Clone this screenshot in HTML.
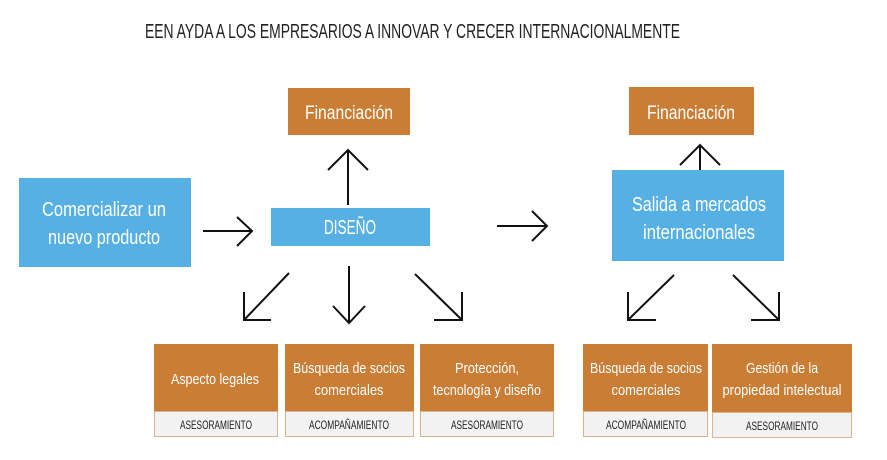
<!DOCTYPE html>
<html><head><meta charset="utf-8"><style>
html,body{margin:0;padding:0;background:#fff;}
svg{display:block}
text{font-family:"Liberation Sans Narrow","Liberation Sans",sans-serif;}
</style></head><body>
<svg width="887" height="460" viewBox="0 0 887 460" xmlns="http://www.w3.org/2000/svg">
<text x="145" y="38" font-size="20" fill="#222" textLength="535" lengthAdjust="spacingAndGlyphs">EEN AYDA A LOS EMPRESARIOS A INNOVAR Y CRECER INTERNACIONALMENTE</text>

<g fill="#c97d35">
<rect x="288" y="88" width="122" height="47"/>
<rect x="629" y="87" width="125" height="48"/>
<rect x="154" y="344" width="124" height="67"/>
<rect x="285" y="344" width="129" height="67"/>
<rect x="420" y="344" width="134" height="67"/>
<rect x="583" y="344" width="125" height="67"/>
<rect x="712" y="344" width="140" height="68"/>
</g>
<g fill="#f2f2f2" stroke="#d9b48f" stroke-width="1">
<rect x="154.5" y="411.5" width="123" height="25"/>
<rect x="285.5" y="411.5" width="128" height="25"/>
<rect x="420.5" y="411.5" width="133" height="25"/>
<rect x="583.5" y="411.5" width="124" height="25"/>
<rect x="712.5" y="412.5" width="139" height="25"/>
</g>
<g fill="#56b0e3">
<rect x="19" y="178" width="172" height="89"/>
<rect x="271" y="208" width="159" height="38"/>
<rect x="612" y="170" width="172" height="91"/>
</g>

<g fill="#fff" text-anchor="middle">
<text x="349" y="119" font-size="19" textLength="88" lengthAdjust="spacingAndGlyphs">Financiación</text>
<text x="691" y="119" font-size="19" textLength="88" lengthAdjust="spacingAndGlyphs">Financiación</text>
<text x="104" y="216" font-size="20" textLength="124" lengthAdjust="spacingAndGlyphs">Comercializar un</text>
<text x="104" y="244" font-size="20" textLength="112" lengthAdjust="spacingAndGlyphs">nuevo producto</text>
<text x="350" y="234" font-size="20" textLength="52" lengthAdjust="spacingAndGlyphs">DISEÑO</text>
<text x="699" y="211" font-size="20" textLength="134" lengthAdjust="spacingAndGlyphs">Salida a mercados</text>
<text x="699" y="239" font-size="20" textLength="112" lengthAdjust="spacingAndGlyphs">internacionales</text>
<text x="215" y="384" font-size="15" textLength="88" lengthAdjust="spacingAndGlyphs">Aspecto legales</text>
<text x="349" y="373" font-size="15" textLength="112" lengthAdjust="spacingAndGlyphs">Búsqueda de socios</text>
<text x="349" y="395" font-size="15" textLength="69" lengthAdjust="spacingAndGlyphs">comerciales</text>
<text x="487" y="373" font-size="15" textLength="64" lengthAdjust="spacingAndGlyphs">Protección,</text>
<text x="487" y="395" font-size="15" textLength="108" lengthAdjust="spacingAndGlyphs">tecnología y diseño</text>
<text x="646" y="373" font-size="15" textLength="112" lengthAdjust="spacingAndGlyphs">Búsqueda de socios</text>
<text x="646" y="395" font-size="15" textLength="69" lengthAdjust="spacingAndGlyphs">comerciales</text>
<text x="782" y="373" font-size="15" textLength="72" lengthAdjust="spacingAndGlyphs">Gestión de la</text>
<text x="782" y="395" font-size="15" textLength="119" lengthAdjust="spacingAndGlyphs">propiedad intelectual</text>
</g>
<g fill="#222" text-anchor="middle" font-size="12">
<text x="216" y="429" textLength="72" lengthAdjust="spacingAndGlyphs">ASESORAMIENTO</text>
<text x="349" y="429" textLength="80" lengthAdjust="spacingAndGlyphs">ACOMPAÑAMIENTO</text>
<text x="487" y="429" textLength="72" lengthAdjust="spacingAndGlyphs">ASESORAMIENTO</text>
<text x="646" y="429" textLength="80" lengthAdjust="spacingAndGlyphs">ACOMPAÑAMIENTO</text>
<text x="782" y="430" textLength="72" lengthAdjust="spacingAndGlyphs">ASESORAMIENTO</text>
</g>

<g stroke="#111" stroke-width="2" fill="none">
<path d="M348 205V150M328 170L348 150L368 170"/>
<path d="M203 231H252M237 217L252 231L237 246"/>
<path d="M497 226H547M532 211L547 226L532 241"/>
<path d="M289 273L244 320M244 292V320H271"/>
<path d="M349 266V323M333 306L349 323L365 306"/>
<path d="M415 274L462 320M462 292V320H434"/>
<path d="M700 170V145M680 165L700 145L720 165"/>
<path d="M674 275L628 320M628 292V320H656"/>
<path d="M733 275L779 320M779 292V320H751"/>
</g>
</svg>
</body></html>
